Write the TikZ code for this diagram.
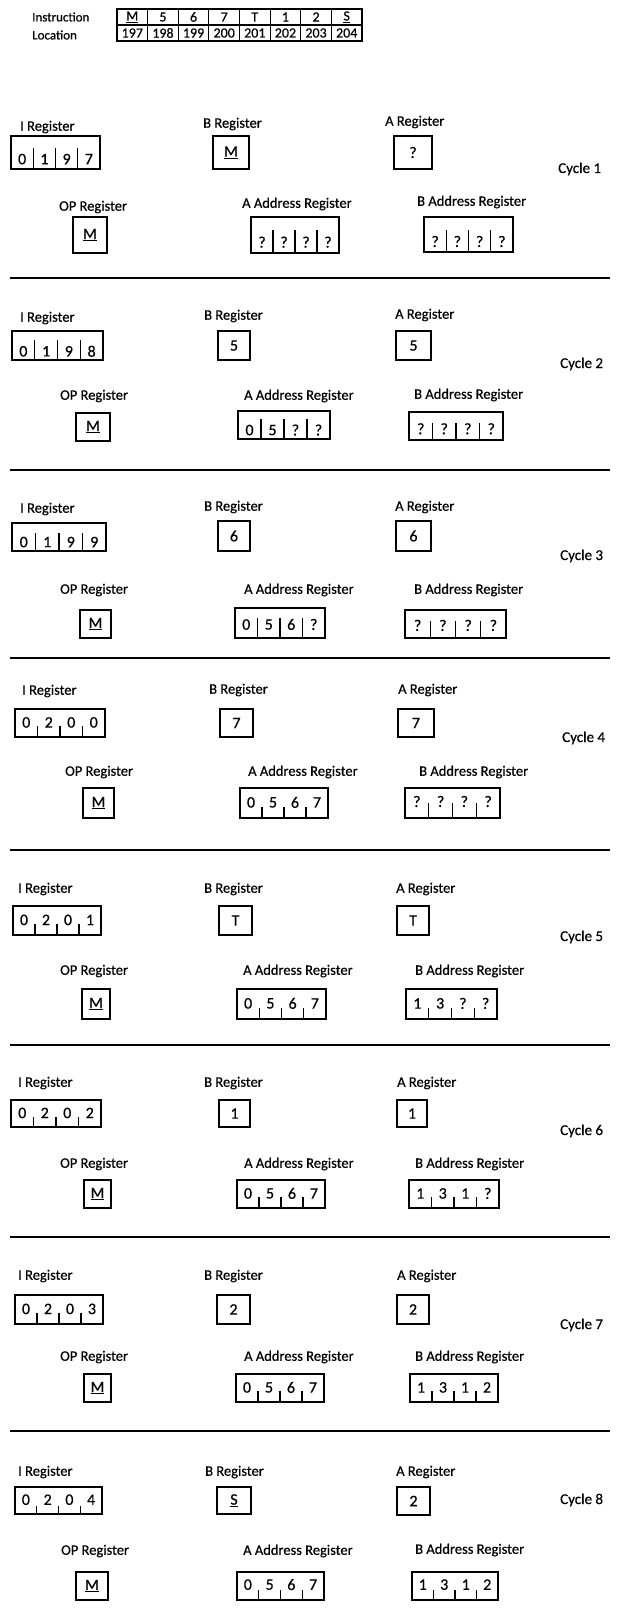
\documentclass[tikz,border=0pt]{standalone}
\usepackage{fontspec}
\setmainfont{Carlito}[FakeBold=0.5]
\usetikzlibrary{calc}
\newcommand\um{\underline{M}}
\newcommand\us{\underline{S}}
% name, x1, y1, x2, y2, tick fraction, digit fraction, digits
\newcommand\quadreg[8]{%
  \node[regbox, minimum width={(#4-(#2))*1pt}, minimum height={(#5-(#3))*1pt}] (#1) at ({(#2+#4)/2},{(#3+#5)/2}) {};
  \foreach \k in {1,2,3}{\draw[tickline] ($(#1.south west)!\k/4!(#1.south east)$) -- ++(0,{-#6*(#5-(#3))});}
  \foreach \d [count=\k, evaluate=\k as \f using (\k-0.5)/4] in {#8}{\node[digit] (#1-\k) at ($(#1.north west)!\f!(#1.north east)+(0,{#7*(#5-(#3))})$) {\d};}
}
% name, x1, y1, x2, y2, content
\newcommand\onereg[6]{%
  \node[regbox, minimum width={(#4-(#2))*1pt}, minimum height={(#5-(#3))*1pt}] (#1) at ({(#2+#4)/2},{(#3+#5)/2}) {#6};
}
\newcommand\sep[3]{%
  \coordinate (#1a) at (10,#2);
  \coordinate (#1b) at (610,#2);
  \draw[sepline] (#1a) -- (#1b);
}
\begin{document}
\begin{tikzpicture}[x=1pt,y=-1pt,
  regbox/.style={draw, line width=1.6pt, inner sep=0pt, outer sep=0pt, font=\fontsize{16}{17}\selectfont},
  tickline/.style={line width=1.3pt},
  digit/.style={inner sep=0pt, font=\fontsize{16}{17}\selectfont},
  lbl/.style={anchor=west, inner sep=0pt, font=\fontsize{14.5}{16}\selectfont},
  tlbl/.style={anchor=west, inner sep=0pt, font=\fontsize{13}{15}\selectfont},
  cyc/.style={anchor=west, inner sep=0pt, font=\fontsize{15}{17}\selectfont},
  sepline/.style={line width=1.8pt},
  tcell/.style={draw, line width=1.2pt, minimum width=30.6pt, minimum height=16pt, inner sep=0pt, font=\fontsize{14}{15}\selectfont}]
\useasboundingbox (0,0) rectangle (618,1621);

% ---------- top table ----------
\node[tlbl] (instr) at (32,17) {Instruction};
\node[tlbl] (loc) at (32,35) {Location};
\foreach \t [count=\k] in {\um,5,6,7,T,1,2,\us}
  \node[tcell] (ins-\k) at ({117+(\k-0.5)*30.625},17) {\t};
\foreach \t [count=\k] in {197,198,199,200,201,202,203,204}
  \node[tcell] (loc-\k) at ({117+(\k-0.5)*30.625},33) {\t};

% ---------- Cycle 1 ----------
\node[lbl] (c1Il) at (20,127) {I Register};
\node[lbl] (c1Bl) at (203,124) {B Register};
\node[lbl] (c1Al) at (385,122) {A Register};
\node[lbl] (c1OPl) at (59,207) {OP Register};
\node[lbl] (c1AAl) at (242,204) {A Address Register};
\node[lbl] (c1BAl) at (417,202) {B Address Register};
\node[cyc] (c1) at (558,169) {Cycle 1};
\quadreg{c1I}{11}{136}{100}{169}{0.63}{0.7}{0,1,9,7}
\onereg{c1B}{213}{136}{249}{169}{\um}
\onereg{c1A}{394}{136}{432}{169}{?}
\onereg{c1OP}{73}{217}{107}{253}{\um}
\quadreg{c1AA}{251}{217}{339}{253}{0.63}{0.7}{?,?,?,?}
\quadreg{c1BA}{424}{217}{513}{252}{0.63}{0.7}{?,?,?,?}
\sep{s1}{278}

% ---------- Cycle 2 ----------
\node[lbl] (c2Il) at (20,318) {I Register};
\node[lbl] (c2Bl) at (204,316) {B Register};
\node[lbl] (c2Al) at (395,315) {A Register};
\node[lbl] (c2OPl) at (60,396) {OP Register};
\node[lbl] (c2AAl) at (244,396) {A Address Register};
\node[lbl] (c2BAl) at (414,395) {B Address Register};
\node[cyc] (c2) at (560,364) {Cycle 2};
\quadreg{c2I}{12}{331}{103}{360}{0.7}{0.7}{0,1,9,8}
\onereg{c2B}{218}{331}{250}{360}{5}
\onereg{c2A}{396}{331}{431}{360}{5}
\onereg{c2OP}{76}{413}{110}{441}{\um}
\quadreg{c2AA}{238}{411}{330}{439}{0.7}{0.68}{0,5,?,?}
\quadreg{c2BA}{409}{412}{503}{440}{0.6}{0.6}{?,?,?,?}
\sep{s2}{470}

% ---------- Cycle 3 ----------
\node[lbl] (c3Il) at (20,509) {I Register};
\node[lbl] (c3Bl) at (204,507) {B Register};
\node[lbl] (c3Al) at (395,507) {A Register};
\node[lbl] (c3OPl) at (60,590) {OP Register};
\node[lbl] (c3AAl) at (244,590) {A Address Register};
\node[lbl] (c3BAl) at (414,590) {B Address Register};
\node[cyc] (c3) at (560,556) {Cycle 3};
\quadreg{c3I}{12}{523}{106}{551}{0.65}{0.68}{0,1,9,9}
\onereg{c3B}{218}{521}{250}{551}{6}
\onereg{c3A}{396}{521}{431}{551}{6}
\onereg{c3OP}{80}{610}{111}{638}{\um}
\quadreg{c3AA}{235}{608}{325}{638}{0.67}{0.55}{0,5,6,?}
\quadreg{c3BA}{405}{610}{506}{638}{0.6}{0.55}{?,?,?,?}
\sep{s3}{658}

% ---------- Cycle 4 ----------
\node[lbl] (c4Il) at (22,691) {I Register};
\node[lbl] (c4Bl) at (209,690) {B Register};
\node[lbl] (c4Al) at (398,690) {A Register};
\node[lbl] (c4OPl) at (65,772) {OP Register};
\node[lbl] (c4AAl) at (248,772) {A Address Register};
\node[lbl] (c4BAl) at (419,772) {B Address Register};
\node[cyc] (c4) at (562,738) {Cycle 4};
\quadreg{c4I}{15}{709}{105}{737}{0.38}{0.48}{0,2,0,0}
\onereg{c4B}{220}{709}{253}{737}{7}
\onereg{c4A}{398}{709}{434}{737}{7}
\onereg{c4OP}{83}{788}{114}{818}{\um}
\quadreg{c4AA}{240}{788}{328}{818}{0.38}{0.48}{0,5,6,7}
\quadreg{c4BA}{405}{788}{500}{818}{0.5}{0.45}{?,?,?,?}
\sep{s4}{850}

% ---------- Cycle 5 ----------
\node[lbl] (c5Il) at (18,889) {I Register};
\node[lbl] (c5Bl) at (204,889) {B Register};
\node[lbl] (c5Al) at (396,889) {A Register};
\node[lbl] (c5OPl) at (60,971) {OP Register};
\node[lbl] (c5AAl) at (243,971) {A Address Register};
\node[lbl] (c5BAl) at (415,971) {B Address Register};
\node[cyc] (c5) at (560,937) {Cycle 5};
\quadreg{c5I}{13}{906}{101}{935}{0.38}{0.48}{0,2,0,1}
\onereg{c5B}{219}{906}{252}{935}{T}
\onereg{c5A}{397}{906}{429}{935}{T}
\onereg{c5OP}{82}{989}{110}{1019}{\um}
\quadreg{c5AA}{237}{989}{326}{1019}{0.38}{0.48}{0,5,6,7}
\quadreg{c5BA}{406}{989}{497}{1019}{0.38}{0.48}{1,3,?,?}
\sep{s5}{1045}

% ---------- Cycle 6 ----------
\node[lbl] (c6Il) at (18,1083) {I Register};
\node[lbl] (c6Bl) at (204,1083) {B Register};
\node[lbl] (c6Al) at (397,1083) {A Register};
\node[lbl] (c6OPl) at (60,1164) {OP Register};
\node[lbl] (c6AAl) at (244,1164) {A Address Register};
\node[lbl] (c6BAl) at (415,1164) {B Address Register};
\node[cyc] (c6) at (560,1131) {Cycle 6};
\quadreg{c6I}{11}{1100}{101}{1127}{0.38}{0.48}{0,2,0,2}
\onereg{c6B}{219}{1100}{250}{1127}{1}
\onereg{c6A}{397}{1100}{427}{1127}{1}
\onereg{c6OP}{84}{1180}{111}{1208}{\um}
\quadreg{c6AA}{237}{1180}{325}{1208}{0.38}{0.48}{0,5,6,7}
\quadreg{c6BA}{409}{1180}{499}{1208}{0.38}{0.48}{1,3,1,?}
\sep{s6}{1237}

% ---------- Cycle 7 ----------
\node[lbl] (c7Il) at (18,1276) {I Register};
\node[lbl] (c7Bl) at (204,1276) {B Register};
\node[lbl] (c7Al) at (397,1276) {A Register};
\node[lbl] (c7OPl) at (60,1357) {OP Register};
\node[lbl] (c7AAl) at (244,1357) {A Address Register};
\node[lbl] (c7BAl) at (415,1357) {B Address Register};
\node[cyc] (c7) at (560,1325) {Cycle 7};
\quadreg{c7I}{15}{1295}{103}{1324}{0.38}{0.48}{0,2,0,3}
\onereg{c7B}{217}{1295}{250}{1324}{2}
\onereg{c7A}{397}{1295}{429}{1324}{2}
\onereg{c7OP}{84}{1374}{111}{1402}{\um}
\quadreg{c7AA}{236}{1374}{324}{1402}{0.38}{0.48}{0,5,6,7}
\quadreg{c7BA}{410}{1374}{498}{1402}{0.38}{0.48}{1,3,1,2}
\sep{s7}{1431}

% ---------- Cycle 8 ----------
\node[lbl] (c8Il) at (18,1472) {I Register};
\node[lbl] (c8Bl) at (205,1472) {B Register};
\node[lbl] (c8Al) at (396,1472) {A Register};
\node[lbl] (c8OPl) at (61,1551) {OP Register};
\node[lbl] (c8AAl) at (243,1551) {A Address Register};
\node[lbl] (c8BAl) at (415,1550) {B Address Register};
\node[cyc] (c8) at (560,1500) {Cycle 8};
\quadreg{c8I}{15}{1487}{102}{1514}{0.3}{0.47}{0,2,0,4}
\onereg{c8B}{217}{1487}{251}{1514}{\us}
\onereg{c8A}{397}{1487}{430}{1515}{2}
\onereg{c8OP}{76}{1572}{108}{1600}{\um}
\quadreg{c8AA}{237}{1572}{324}{1600}{0.35}{0.45}{0,5,6,7}
\quadreg{c8BA}{412}{1572}{498}{1600}{0.35}{0.45}{1,3,1,2}
\end{tikzpicture}
\end{document}
